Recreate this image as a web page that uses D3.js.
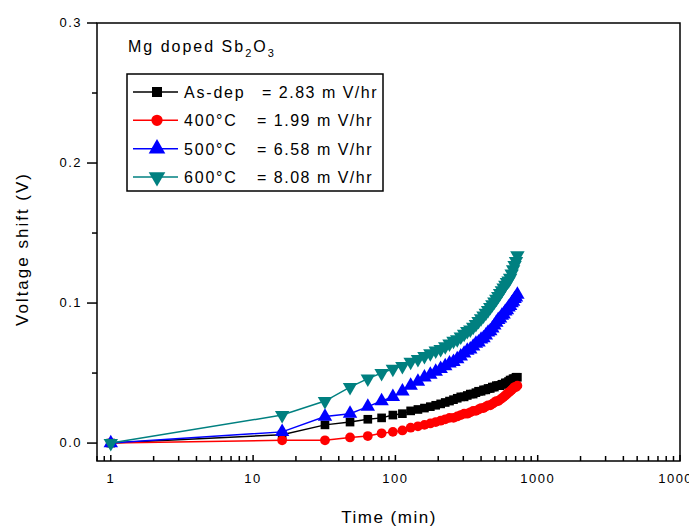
<!DOCTYPE html>
<html lang="en">
<head>
<meta charset="UTF-8">
<title>Voltage shift vs time</title>
<script src="https://d3js.org/d3.v7.min.js"></script>
<style>
  body { margin: 0; background: #fff; }
  svg text { font-family: "Liberation Sans", Arial, sans-serif; fill: #000; }
</style>
</head>
<body>
<svg id="chart" width="689" height="528"></svg>
<script>
// time points (min)
var times = [1, 16, 32, 48, 64, 80, 96, 112, 128, 144, 160, 176, 192, 208, 224, 240,
  256, 272, 288, 304, 320, 336, 352, 368, 384, 400, 416, 432, 448, 464, 480, 496,
  512, 528, 544, 560, 576, 592, 608, 624, 640, 656, 672, 688, 704, 720];

// voltage shift (V)
var asDep = [0.000, 0.006, 0.013, 0.015, 0.017, 0.018, 0.020, 0.021, 0.023, 0.024, 0.025, 0.026, 0.027, 0.028, 0.029, 0.030,
  0.031, 0.032, 0.033, 0.033, 0.034, 0.035, 0.035, 0.036, 0.037, 0.037, 0.038, 0.038, 0.039, 0.039, 0.040, 0.040,
  0.041, 0.041, 0.041, 0.042, 0.042, 0.043, 0.043, 0.044, 0.045, 0.045, 0.046, 0.046, 0.047, 0.047];
var t400 = [0.000, 0.002, 0.002, 0.004, 0.005, 0.007, 0.008, 0.009, 0.011, 0.012, 0.013, 0.014, 0.015, 0.016, 0.017, 0.018,
  0.018, 0.019, 0.020, 0.021, 0.021, 0.022, 0.023, 0.023, 0.024, 0.025, 0.025, 0.026, 0.027, 0.027, 0.028, 0.029,
  0.030, 0.030, 0.031, 0.032, 0.033, 0.034, 0.035, 0.036, 0.037, 0.038, 0.039, 0.040, 0.040, 0.041];
var t500 = [0.000, 0.008, 0.019, 0.021, 0.026, 0.030, 0.033, 0.037, 0.041, 0.044, 0.047, 0.049, 0.051, 0.053, 0.055, 0.057,
  0.058, 0.060, 0.062, 0.064, 0.066, 0.067, 0.069, 0.071, 0.072, 0.074, 0.075, 0.077, 0.079, 0.080, 0.082, 0.084,
  0.086, 0.088, 0.089, 0.091, 0.092, 0.094, 0.095, 0.097, 0.098, 0.100, 0.101, 0.103, 0.104, 0.106];
var t600 = [0.000, 0.020, 0.030, 0.040, 0.046, 0.050, 0.053, 0.055, 0.058, 0.060, 0.062, 0.064, 0.066, 0.067, 0.069, 0.071,
  0.073, 0.074, 0.076, 0.078, 0.080, 0.081, 0.083, 0.085, 0.087, 0.089, 0.091, 0.093, 0.095, 0.097, 0.099, 0.101,
  0.103, 0.105, 0.107, 0.109, 0.111, 0.113, 0.115, 0.116, 0.118, 0.121, 0.124, 0.127, 0.130, 0.134];

var seriesNames = ["As-dep", "400\u00B0C", "500\u00B0C", "600\u00B0C"];
var seriesRates = ["= 2.83 m V/hr", "= 1.99 m V/hr", "= 6.58 m V/hr", "= 8.08 m V/hr"];
var xTickLabels = ["1", "10", "100", "1000", "10000"];
var yTickLabels = ["0.0", "0.1", "0.2", "0.3"];

var colors = ["#000000", "#ff0000", "#0000ff", "#008080"];
var shapes = ["square", "circle", "up", "down"];
var allSeries = [asDep, t400, t500, t600];

var svg = d3.select("#chart");
var mLeft = 97, mRight = 680, mTop = 23, mBottom = 461;

var x = d3.scaleLog().domain([0.8, 10000]).range([mLeft, mRight]);
var y = d3.scaleLinear().domain([-0.0128, 0.3]).range([mBottom, mTop]);

// marker helper
function marker(sel, shape, color, size) {
  var type = shape === "square" ? d3.symbolSquare : shape === "circle" ? d3.symbolCircle : d3.symbolTriangle;
  var s = (shape === "up" || shape === "down") ? size * 1.2 : size;
  sel.append("path")
    .attr("d", d3.symbol().type(type).size(s)())
    .attr("transform", shape === "down" ? "rotate(180)" : null)
    .attr("fill", color);
}

// series
var line = d3.line()
  .x(function (d) { return x(d[0]); })
  .y(function (d) { return y(d[1]); });

allSeries.forEach(function (vals, i) {
  var pts = times.map(function (t, j) { return [t, vals[j]]; });
  var g = svg.append("g");
  g.append("path")
    .datum(pts)
    .attr("d", line)
    .attr("fill", "none")
    .attr("stroke", colors[i])
    .attr("stroke-width", 1.5);
  var m = g.selectAll("g.pt").data(pts).enter().append("g")
    .attr("transform", function (d) { return "translate(" + x(d[0]) + "," + y(d[1]) + ")"; });
  marker(m, shapes[i], colors[i], 75);
});

// frame
svg.append("rect")
  .attr("x", mLeft).attr("y", mTop)
  .attr("width", mRight - mLeft).attr("height", mBottom - mTop)
  .attr("fill", "none").attr("stroke", "#000").attr("stroke-width", 1.5);

// x axis ticks (inward)
var xMajor = [1, 10, 100, 1000, 10000];
var xMinor = [];
[0.1, 1, 10, 100, 1000].forEach(function (dec) {
  for (var k = 2; k <= 9; k++) {
    var v = dec * k;
    if (v >= 0.8 && v < 10000) xMinor.push(v);
  }
});
svg.append("g").selectAll("line").data(xMinor).enter().append("line")
  .attr("x1", function (d) { return x(d); }).attr("x2", function (d) { return x(d); })
  .attr("y1", mBottom).attr("y2", mBottom - 5)
  .attr("stroke", "#000").attr("stroke-width", 1.5);
svg.append("g").selectAll("line").data(xMajor).enter().append("line")
  .attr("x1", function (d) { return x(d); }).attr("x2", function (d) { return x(d); })
  .attr("y1", mBottom).attr("y2", mBottom - 6)
  .attr("stroke", "#000").attr("stroke-width", 1.5);
svg.append("g").selectAll("text").data(xMajor).enter().append("text")
  .attr("x", function (d) { return x(d); })
  .attr("y", mBottom + 22)
  .attr("text-anchor", "middle")
  .style("font-size", "13px")
  .style("letter-spacing", "1.5px")
  .text(function (d, i) { return xTickLabels[i]; });

// y axis ticks (outward)
var yMajor = [0, 0.1, 0.2, 0.3];
var yMinor = [0.05, 0.15, 0.25];
svg.append("g").selectAll("line").data(yMajor).enter().append("line")
  .attr("x1", mLeft).attr("x2", mLeft - 10)
  .attr("y1", function (d) { return y(d); }).attr("y2", function (d) { return y(d); })
  .attr("stroke", "#000").attr("stroke-width", 1.5);
svg.append("g").selectAll("line").data(yMinor).enter().append("line")
  .attr("x1", mLeft).attr("x2", mLeft - 5)
  .attr("y1", function (d) { return y(d); }).attr("y2", function (d) { return y(d); })
  .attr("stroke", "#000").attr("stroke-width", 1.5);
svg.append("g").selectAll("text").data(yMajor).enter().append("text")
  .attr("x", mLeft - 15)
  .attr("y", function (d) { return y(d) + 4; })
  .attr("text-anchor", "end")
  .style("font-size", "13px")
  .style("letter-spacing", "1.5px")
  .text(function (d, i) { return yTickLabels[i]; });

// axis titles
svg.append("text")
  .attr("transform", "translate(28,249) rotate(-90)")
  .attr("text-anchor", "middle")
  .style("font-size", "17px")
  .style("letter-spacing", "2px")
  .text("Voltage shift (V)");
svg.append("text")
  .attr("x", 389).attr("y", 523)
  .attr("text-anchor", "middle")
  .style("font-size", "17px")
  .style("letter-spacing", "1.5px")
  .text("Time (min)");

// legend title
var title = svg.append("text").attr("x", 128).attr("y", 52)
  .style("font-size", "16px").style("letter-spacing", "2px");
title.append("tspan").text("Mg doped Sb");
title.append("tspan").attr("dy", 5).style("font-size", "11px").text("2");
title.append("tspan").attr("dy", -5).text("O");
title.append("tspan").attr("dy", 5).style("font-size", "11px").text("3");

// legend box
var legend = svg.append("g");
legend.append("rect")
  .attr("x", 127).attr("y", 74).attr("width", 256).attr("height", 117)
  .attr("fill", "#fff").attr("stroke", "#000").attr("stroke-width", 1.5);

var rowY = d3.scalePoint().domain(d3.range(seriesNames.length)).range([92, 177]);
seriesNames.forEach(function (name, i) {
  var yy = rowY(i);
  legend.append("line")
    .attr("x1", 133).attr("x2", 178).attr("y1", yy).attr("y2", yy)
    .attr("stroke", colors[i]).attr("stroke-width", 1.5);
  var m = legend.append("g").attr("transform", "translate(157," + yy + ")");
  marker(m, shapes[i], colors[i], 100);
  legend.append("text").attr("x", 184).attr("y", yy + 6)
    .style("font-size", "16px").style("letter-spacing", "1.8px").text(name);
  legend.append("text").attr("x", i === 0 ? 262 : 257).attr("y", yy + 6)
    .style("font-size", "16px").style("letter-spacing", "1.5px").text(seriesRates[i]);
});
</script>
</body>
</html>
